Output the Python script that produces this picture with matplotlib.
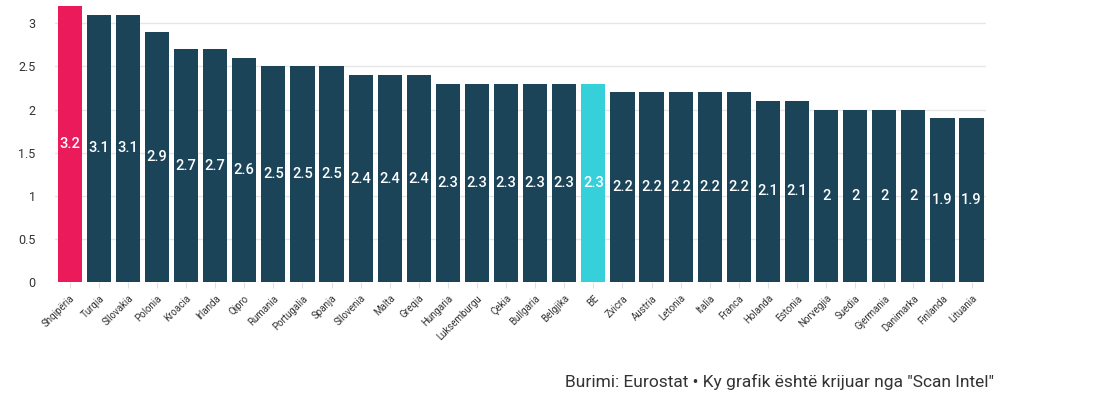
"""Bar chart: inflation by country (Eurostat)."""

import matplotlib.pyplot as plt
import numpy as np

countries = ["Shqipëria", "Turqia", "Sllovakia", "Polonia", "Kroacia", "Irlanda",
             "Qipro", "Rumania", "Portugalia", "Spanja", "Sllovenia", "Malta",
             "Greqia", "Hungaria", "Luksemburgu", "Çekia", "Bullgaria", "Belgjika",
             "BE", "Zvicra", "Austria", "Letonia", "Italia", "Franca", "Holanda",
             "Estonia", "Norvegjia", "Suedia", "Gjermania", "Danimarka", "Finlanda",
             "Lituania"]
values = [3.2, 3.1, 3.1, 2.9, 2.7, 2.7, 2.6, 2.5, 2.5, 2.5, 2.4, 2.4, 2.4,
          2.3, 2.3, 2.3, 2.3, 2.3, 2.3, 2.2, 2.2, 2.2, 2.2, 2.2, 2.1, 2.1,
          2.0, 2.0, 2.0, 2.0, 1.9, 1.9]
yticks = [0, 0.5, 1, 1.5, 2, 2.5, 3]

DARK = "#1b4459"
RED = "#ea1a5b"
CYAN = "#36d0da"

colors = [DARK] * len(countries)
colors[countries.index("Shqipëria")] = RED
colors[countries.index("BE")] = CYAN

plt.rcParams['font.family'] = ['Roboto', 'DejaVu Sans']

fig = plt.figure(figsize=(11.03, 3.98), dpi=100)
ax = fig.add_axes([0.05, 0.2915, 0.844, 0.7085])

x = np.arange(len(countries))
ax.bar(x, values, width=0.83, color=colors, zorder=2)

for xi, v in zip(x, values):
    label = f"{v:g}"
    ax.text(xi, v / 2, label, ha='center', va='center', color='white',
            fontsize=10.5, fontweight='medium', zorder=3)

ax.set_xlim(-0.5, len(countries) - 0.5)
ax.set_ylim(0, 3.27)
ax.set_yticks(yticks)
ax.set_yticklabels([f"{t:g}" for t in yticks])
ax.yaxis.grid(True, color="#e6e6e6", linewidth=1, zorder=0)
ax.set_axisbelow(True)

ax.set_xticks(x)
ax.set_xticklabels(countries, rotation=45, ha='right', rotation_mode='anchor',
                   fontsize=7, color="#333333")
ax.tick_params(axis='x', length=4, color="#e0e0e0", pad=4)
ax.tick_params(axis='y', length=0, labelsize=9, colors="#333333", pad=14)

for s in ax.spines.values():
    s.set_visible(False)

fig.text(0.512, 0.02, 'Burimi: Eurostat • Ky grafik është krijuar nga "Scan Intel"',
         fontsize=12.5, color="#333333", ha='left', va='bottom')

fig.savefig("out.png", dpi=100)
